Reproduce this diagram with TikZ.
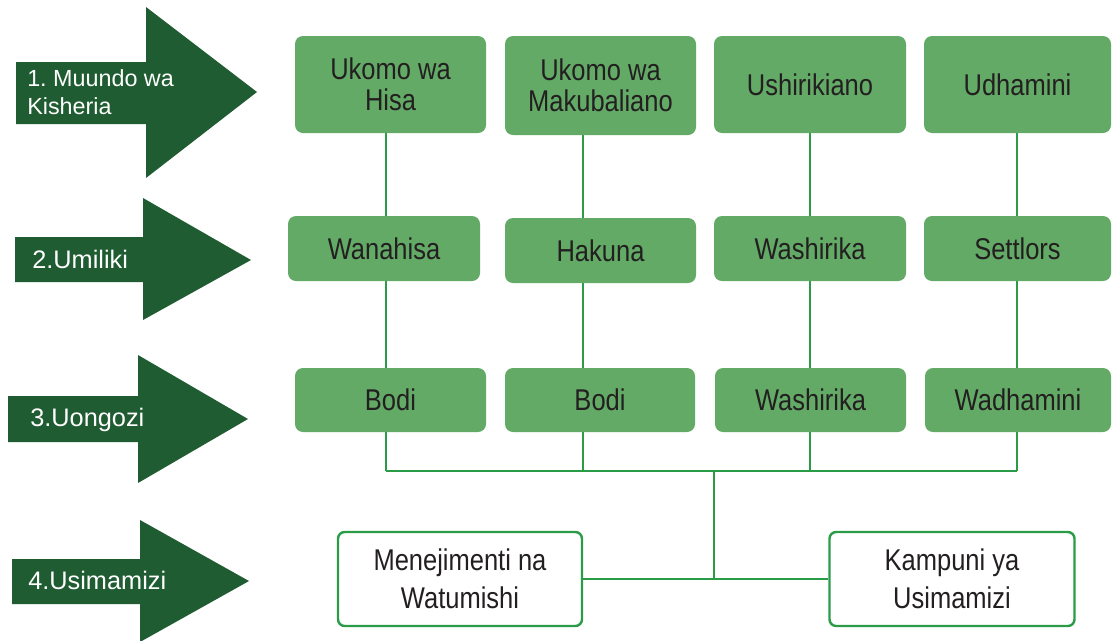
\documentclass[tikz,border=0pt]{standalone}
\usepackage{fontspec}
\setmainfont{Liberation Sans}
\newfontfamily\boxfont[FakeStretch=0.85]{Liberation Sans}
\definecolor{arrowgreen}{HTML}{1F5C32}
\definecolor{boxgreen}{HTML}{62AA66}
\definecolor{linegreen}{HTML}{2A9C48}
\definecolor{textgray}{HTML}{231F20}
\tikzset{
  sbox/.style 2 args={rectangle, rounded corners=6pt, fill=boxgreen, text=textgray,
    font=\boxfont\fontsize{22.5}{23.5}\selectfont, align=center, inner sep=0pt,
    minimum width=#1*0.75pt, minimum height=#2*0.75pt},
  wbox/.style 2 args={sbox={#1}{#2}, fill=white, draw=linegreen, line width=1.8pt, rounded corners=5pt,
    font=\boxfont\fontsize{22.5}{28.5}\selectfont},
  lvltext/.style={anchor=west, text=white, align=left, inner sep=0pt,
    font=\fontsize{19}{20.5}\selectfont},
  link/.style={draw=linegreen, line width=1.5pt},
  buslink/.style={draw=linegreen, line width=2pt}
}
\begin{document}
\begin{tikzpicture}[x=0.75pt,y=-0.75pt]
    \clip (0,0) rectangle (1112,640);
    \fill[white] (0,0) rectangle (1112,640);

    % level arrows
    \fill[arrowgreen] (16,62) -- (146,62) -- (146,7) -- (257,92) -- (146,178) -- (146,124) -- (16,124) -- cycle;
    \fill[arrowgreen] (15,237) -- (143,237) -- (143,198) -- (251,260) -- (143,320) -- (143,282) -- (15,282) -- cycle;
    \fill[arrowgreen] (8,396) -- (138,396) -- (138,355) -- (248,419) -- (138,483) -- (138,442) -- (8,442) -- cycle;
    \fill[arrowgreen] (12,559) -- (140,559) -- (140,520) -- (249,581) -- (140,642) -- (140,604) -- (12,604) -- cycle;

    \node[lvltext, font=\frenchspacing\fontsize{17.5}{20.5}\selectfont] (l1) at (27,92) {1. Muundo wa\\Kisheria};
    \node[lvltext] (l2) at (32,259) {2.Umiliki};
    \node[lvltext] (l3) at (30,420) {3.Uongozi};
    \node[lvltext] (l4) at (28,580) {4.Usimamizi};

    % muundo
    \node[sbox={191}{97}] (s1) at (390.5,84.5) {Ukomo wa\\Hisa};
    \node[sbox={191}{99}] (s2) at (600.5,85.5) {Ukomo wa\\Makubaliano};
    \node[sbox={192}{97}] (s3) at (810,84.5) {Ushirikiano};
    \node[sbox={187}{97}] (s4) at (1017.5,84.5) {Udhamini};

    % umiliki
    \node[sbox={192}{65}] (o1) at (384,248.5) {Wanahisa};
    \node[sbox={191}{65}] (o2) at (600.5,250.5) {Hakuna};
    \node[sbox={192}{65}] (o3) at (810,248.5) {Washirika};
    \node[sbox={187}{65}] (o4) at (1017.5,248.5) {Settlors};

    % uongozi
    \node[sbox={191}{64}] (g1) at (390.5,400) {Bodi};
    \node[sbox={190}{64}] (g2) at (600,400) {Bodi};
    \node[sbox={191}{64}] (g3) at (810.5,400) {Washirika};
    \node[sbox={186}{64}] (g4) at (1018,400) {Wadhamini};

    % usimamizi
    \node[wbox={244}{94}] (m1) at (460,579) {Menejimenti na\\Watumishi};
    \node[wbox={245}{94}] (m2) at (952,579) {Kampuni ya\\Usimamizi};

    \coordinate (c1) at (386,0);
    \coordinate (c2) at (583,0);
    \coordinate (c3) at (810,0);
    \coordinate (c4) at (1017,0);
    \coordinate (bus) at (714,471);

    \foreach \i in {1,2,3,4} {
        \draw[link] (s\i.south -| c\i) -- (o\i.north -| c\i);
        \draw[link] (o\i.south -| c\i) -- (g\i.north -| c\i);
        \draw[link] (g\i.south -| c\i) -- (c\i |- bus);
    }
    \draw[buslink] (c1 |- bus) -- (c4 |- bus);
    \draw[buslink] (bus) -- (bus |- m1.east);
    \draw[buslink] (m1) -- (m2);
\end{tikzpicture}
\end{document}
